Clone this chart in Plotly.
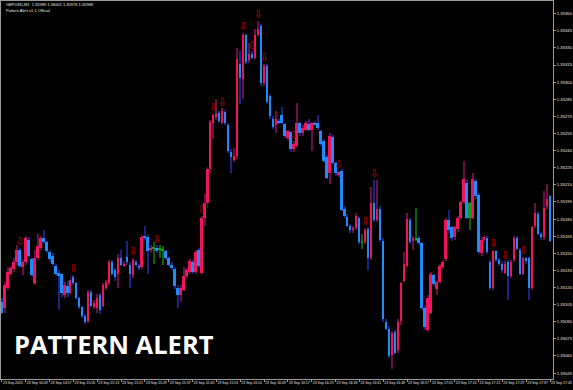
import pandas as pd
import plotly.graph_objects as go

# ---------------- data (GBPUSD M1, 23 Sep 2025) ----------------
start_time = "2025-09-23 14:41"

open_ = [
1.35107,1.35102,1.35120,1.35132,1.35136,1.35142,1.35153,1.35138,1.35142,1.35162,
1.35145,1.35124,1.35146,1.35155,1.35163,1.35160,1.35151,1.35148,1.35139,1.35133,
1.35132,1.35113,1.35121,1.35115,1.35129,1.35124,1.35111,1.35103,1.35095,1.35091,
1.35116,1.35103,1.35102,1.35113,1.35104,1.35120,1.35124,1.35142,1.35135,1.35132,
1.35146,1.35139,1.35147,1.35140,1.35131,1.35142,1.35139,1.35138,1.35165,1.35164,
1.35153,1.35155,1.35155,1.35154,1.35153,1.35152,1.35146,1.35140,1.35136,1.35120,
1.35113,1.35118,1.35130,1.35134,1.35142,1.35134,1.35153,1.35133,1.35181,1.35194,
1.35224,1.35264,1.35269,1.35273,1.35264,1.35274,1.35262,1.35239,1.35232,1.35235,
1.35316,1.35303,1.35341,1.35319,1.35325,1.35321,1.35341,1.35349,1.35299,1.35314,
1.35288,1.35268,1.35262,1.35266,1.35271,1.35263,1.35251,1.35256,1.35241,1.35244,
1.35264,1.35255,1.35258,1.35263,1.35258,1.35264,1.35264,1.35257,1.35248,1.35234,
1.35220,1.35252,1.35229,1.35219,1.35222,1.35189,1.35182,1.35174,1.35170,1.35172,
1.35181,1.35160,1.35160,1.35171,1.35146,1.35194,1.35179,1.35189,1.35161,1.35090,
1.35084,1.35061,1.35081,1.35065,1.35091,1.35126,1.35139,1.35179,1.35161,1.35163,
1.35163,1.35159,1.35102,1.35083,1.35098,1.35131,1.35119,1.35125,1.35138,1.35145,
1.35179,1.35173,1.35164,1.35171,1.35181,1.35195,1.35212,1.35181,1.35181,1.35213,
1.35201,1.35150,1.35162,1.35163,1.35142,1.35120,1.35152,1.35144,1.35141,1.35133,
1.35142,1.35130,1.35144,1.35163,1.35153,1.35132,1.35146,1.35146,1.35120,1.35174,
1.35184,1.35167,1.35164,1.35191,1.35200]

high = [
1.35111,1.35125,1.35138,1.35139,1.35146,1.35157,1.35155,1.35144,1.35165,1.35164,
1.35146,1.35153,1.35167,1.35165,1.35170,1.35161,1.35153,1.35150,1.35141,1.35135,
1.35133,1.35125,1.35126,1.35130,1.35131,1.35125,1.35112,1.35104,1.35097,1.35118,
1.35118,1.35109,1.35114,1.35115,1.35124,1.35127,1.35144,1.35144,1.35137,1.35149,
1.35153,1.35143,1.35161,1.35142,1.35146,1.35144,1.35141,1.35166,1.35174,1.35166,
1.35157,1.35160,1.35157,1.35157,1.35156,1.35153,1.35147,1.35142,1.35138,1.35122,
1.35122,1.35138,1.35137,1.35145,1.35144,1.35153,1.35155,1.35183,1.35202,1.35226,
1.35267,1.35272,1.35285,1.35275,1.35277,1.35276,1.35264,1.35241,1.35242,1.35330,
1.35327,1.35343,1.35342,1.35334,1.35327,1.35347,1.35354,1.35351,1.35316,1.35316,
1.35290,1.35270,1.35275,1.35268,1.35278,1.35264,1.35258,1.35257,1.35248,1.35282,
1.35265,1.35262,1.35266,1.35268,1.35265,1.35266,1.35271,1.35258,1.35250,1.35236,
1.35255,1.35254,1.35231,1.35222,1.35224,1.35191,1.35184,1.35176,1.35174,1.35185,
1.35182,1.35167,1.35172,1.35173,1.35208,1.35214,1.35214,1.35191,1.35163,1.35092,
1.35086,1.35082,1.35083,1.35092,1.35125,1.35151,1.35185,1.35181,1.35165,1.35190,
1.35165,1.35160,1.35104,1.35113,1.35134,1.35132,1.35126,1.35141,1.35144,1.35181,
1.35188,1.35174,1.35174,1.35183,1.35196,1.35231,1.35214,1.35195,1.35220,1.35215,
1.35203,1.35164,1.35166,1.35165,1.35144,1.35153,1.35153,1.35146,1.35143,1.35143,
1.35144,1.35144,1.35165,1.35165,1.35155,1.35147,1.35147,1.35147,1.35174,1.35194,
1.35186,1.35169,1.35205,1.35211,1.35201]

low = [
1.35097,1.35098,1.35118,1.35131,1.35134,1.35140,1.35137,1.35131,1.35140,1.35146,
1.35129,1.35122,1.35144,1.35153,1.35158,1.35150,1.35142,1.35139,1.35130,1.35100,
1.35112,1.35111,1.35112,1.35113,1.35122,1.35109,1.35101,1.35093,1.35088,1.35089,
1.35103,1.35101,1.35098,1.35097,1.35103,1.35118,1.35122,1.35131,1.35126,1.35120,
1.35139,1.35138,1.35140,1.35120,1.35128,1.35139,1.35135,1.35136,1.35162,1.35132,
1.35151,1.35141,1.35150,1.35146,1.35140,1.35144,1.35139,1.35135,1.35119,1.35102,
1.35107,1.35117,1.35128,1.35132,1.35132,1.35132,1.35137,1.35132,1.35174,1.35190,
1.35220,1.35250,1.35267,1.35264,1.35263,1.35262,1.35238,1.35220,1.35230,1.35233,
1.35281,1.35285,1.35316,1.35317,1.35320,1.35320,1.35340,1.35297,1.35297,1.35281,
1.35268,1.35259,1.35255,1.35263,1.35263,1.35251,1.35249,1.35239,1.35239,1.35243,
1.35253,1.35253,1.35257,1.35257,1.35240,1.35262,1.35258,1.35244,1.35229,1.35215,
1.35211,1.35228,1.35218,1.35217,1.35187,1.35181,1.35173,1.35168,1.35168,1.35170,
1.35158,1.35154,1.35158,1.35135,1.35144,1.35177,1.35177,1.35160,1.35090,1.35083,
1.35058,1.35049,1.35062,1.35063,1.35087,1.35125,1.35138,1.35158,1.35153,1.35161,
1.35157,1.35100,1.35083,1.35081,1.35097,1.35121,1.35113,1.35123,1.35136,1.35143,
1.35168,1.35161,1.35162,1.35169,1.35180,1.35193,1.35180,1.35170,1.35180,1.35198,
1.35149,1.35148,1.35160,1.35149,1.35118,1.35118,1.35142,1.35139,1.35133,1.35132,
1.35109,1.35128,1.35142,1.35153,1.35131,1.35131,1.35141,1.35109,1.35118,1.35172,
1.35166,1.35162,1.35162,1.35189,1.35160]

close = [
1.35098,1.35122,1.35134,1.35137,1.35142,1.35153,1.35139,1.35142,1.35163,1.35148,
1.35131,1.35146,1.35156,1.35163,1.35160,1.35152,1.35145,1.35141,1.35132,1.35130,
1.35115,1.35122,1.35115,1.35127,1.35124,1.35111,1.35103,1.35095,1.35090,1.35116,
1.35104,1.35106,1.35111,1.35100,1.35122,1.35125,1.35142,1.35132,1.35129,1.35146,
1.35140,1.35141,1.35142,1.35132,1.35144,1.35140,1.35137,1.35164,1.35164,1.35152,
1.35155,1.35154,1.35152,1.35153,1.35152,1.35146,1.35140,1.35137,1.35121,1.35113,
1.35120,1.35130,1.35135,1.35143,1.35134,1.35151,1.35139,1.35181,1.35194,1.35224,
1.35265,1.35271,1.35273,1.35266,1.35275,1.35264,1.35240,1.35234,1.35235,1.35320,
1.35304,1.35341,1.35318,1.35325,1.35321,1.35341,1.35347,1.35299,1.35314,1.35283,
1.35270,1.35261,1.35268,1.35264,1.35264,1.35253,1.35257,1.35241,1.35246,1.35264,
1.35255,1.35260,1.35264,1.35258,1.35264,1.35263,1.35260,1.35246,1.35231,1.35216,
1.35253,1.35229,1.35220,1.35221,1.35188,1.35183,1.35174,1.35170,1.35172,1.35183,
1.35160,1.35159,1.35170,1.35146,1.35194,1.35179,1.35189,1.35162,1.35092,1.35084,
1.35060,1.35080,1.35063,1.35090,1.35124,1.35141,1.35180,1.35160,1.35163,1.35162,
1.35159,1.35102,1.35085,1.35111,1.35132,1.35123,1.35125,1.35139,1.35142,1.35179,
1.35170,1.35163,1.35173,1.35181,1.35195,1.35215,1.35181,1.35194,1.35215,1.35200,
1.35151,1.35162,1.35164,1.35151,1.35120,1.35152,1.35144,1.35141,1.35135,1.35141,
1.35130,1.35142,1.35163,1.35154,1.35132,1.35146,1.35143,1.35120,1.35173,1.35185,
1.35167,1.35164,1.35190,1.35198,1.35161]

# bars drawn in green (doji / neutral)
green_bars = [51, 53, 54, 121, 139, 157]
# bars carrying a "Pattern Alert" arrow
alert_bars = [6, 24, 44, 52, 67, 71, 74, 81, 84, 86, 88, 98, 113, 122, 125, 165, 169, 175]

x_tick_labels = ["23 Sep 2025", "23 Sep 14:49", "23 Sep 14:57", "23 Sep 15:05", "23 Sep 15:13",
                 "23 Sep 15:21", "23 Sep 15:29", "23 Sep 15:37", "23 Sep 15:45", "23 Sep 15:53",
                 "23 Sep 16:01", "23 Sep 16:09", "23 Sep 16:17", "23 Sep 16:25", "23 Sep 16:33",
                 "23 Sep 16:41", "23 Sep 16:49", "23 Sep 16:57", "23 Sep 17:05", "23 Sep 17:13",
                 "23 Sep 17:21", "23 Sep 17:29", "23 Sep 17:37", "23 Sep 17:45"]
y_tick_values = [1.35045, 1.35060, 1.35075, 1.35090, 1.35105, 1.35120, 1.35135, 1.35150,
                 1.35165, 1.35180, 1.35195, 1.35210, 1.35225, 1.35240, 1.35255, 1.35270,
                 1.35285, 1.35300, 1.35315, 1.35330, 1.35345, 1.35360]

title_line1 = "GBPUSD,M1  1.35989 1.36002 1.35976 1.35988"
title_line2 = "Pattern Alert v1.1 Official"
banner = "PATTERN ALERT"

# ---------------- styling ----------------
PINK, BLUE, GREEN = "#F0145A", "#1E8CFF", "#1E9A1E"
PINK_W, BLUE_W, GREEN_W = "#6A1046", "#1A2484", "#0E5E0E"
AXIS = "#9A9A9A"
FONT = "Liberation Sans"

n = len(open_)
times = pd.date_range(start_time, periods=n, freq="min")

body_col, wick_col = [], []
for i in range(n):
    if i in green_bars:
        body_col.append(GREEN); wick_col.append(GREEN_W)
    elif close[i] >= open_[i]:
        body_col.append(PINK); wick_col.append(PINK_W)
    else:
        body_col.append(BLUE); wick_col.append(BLUE_W)

fig = go.Figure()
# wicks
fig.add_trace(go.Bar(x=times, base=low, y=[h - l for h, l in zip(high, low)],
                     width=20000, marker=dict(color=wick_col, line=dict(width=0)),
                     hoverinfo="skip"))
# bodies
fig.add_trace(go.Bar(x=times, base=[min(o, c) for o, c in zip(open_, close)],
                     y=[abs(c - o) for o, c in zip(open_, close)],
                     width=40000, marker=dict(color=body_col, line=dict(width=0)),
                     hoverinfo="skip"))
# alert arrows
fig.add_trace(go.Scatter(x=[times[i] for i in alert_bars], y=[high[i] for i in alert_bars],
                         mode="text", text=["\u21e9"] * len(alert_bars),
                         textposition="top center",
                         textfont=dict(family="DejaVu Sans", size=11, color="#C00000"),
                         hoverinfo="skip"))

x_tick_vals = pd.date_range(start_time, periods=len(x_tick_labels), freq="8min")
x0 = pd.Timestamp(start_time) - pd.Timedelta(seconds=20)
x1 = x0 + pd.Timedelta(seconds=556 * 20)

fig.update_layout(
    width=573, height=390, margin=dict(l=0, r=17, t=0, b=11),
    paper_bgcolor="black", plot_bgcolor="black",
    barmode="overlay", bargap=0, showlegend=False,
)
fig.update_xaxes(
    type="date", range=[x0, x1], tickvals=x_tick_vals, ticktext=x_tick_labels,
    tickangle=0,
    ticks="outside", ticklen=2, tickcolor=AXIS, tickwidth=1,
    ticklabelposition="outside right",
    tickfont=dict(family=FONT, size=3.5, color="#E6E6E6"),
    showline=True, linecolor=AXIS, linewidth=1, mirror=True,
    showgrid=False, zeroline=False,
)
fig.update_yaxes(
    side="right", range=[1.350398, 1.353711], tickvals=y_tick_values,
    ticktext=[f"{v:.5f}" for v in y_tick_values],
    ticks="outside", ticklen=2, tickcolor=AXIS, tickwidth=1,
    tickfont=dict(family=FONT, size=4.2, color="#E6E6E6"),
    showline=True, linecolor=AXIS, linewidth=1, mirror=True,
    showgrid=False, zeroline=False,
)

fig.add_annotation(xref="paper", yref="paper", x=3 / 556, y=1 - 4 / 379,
                   xanchor="left", yanchor="middle", showarrow=False,
                   text=title_line1, font=dict(family=FONT, size=4, color="#E6E6E6"))
fig.add_annotation(xref="paper", yref="paper", x=3 / 556, y=1 - 9.5 / 379,
                   xanchor="left", yanchor="middle", showarrow=False,
                   text=title_line2, font=dict(family=FONT, size=4, color="#E6E6E6"))
fig.add_annotation(xref="paper", yref="paper", x=11 / 556, y=(379 - 344) / 379,
                   xanchor="left", yanchor="middle", showarrow=False,
                   text="<b>" + banner + "</b>",
                   font=dict(family="Open Sans", size=25.5, color="white"))

fig.write_html("out.html")
